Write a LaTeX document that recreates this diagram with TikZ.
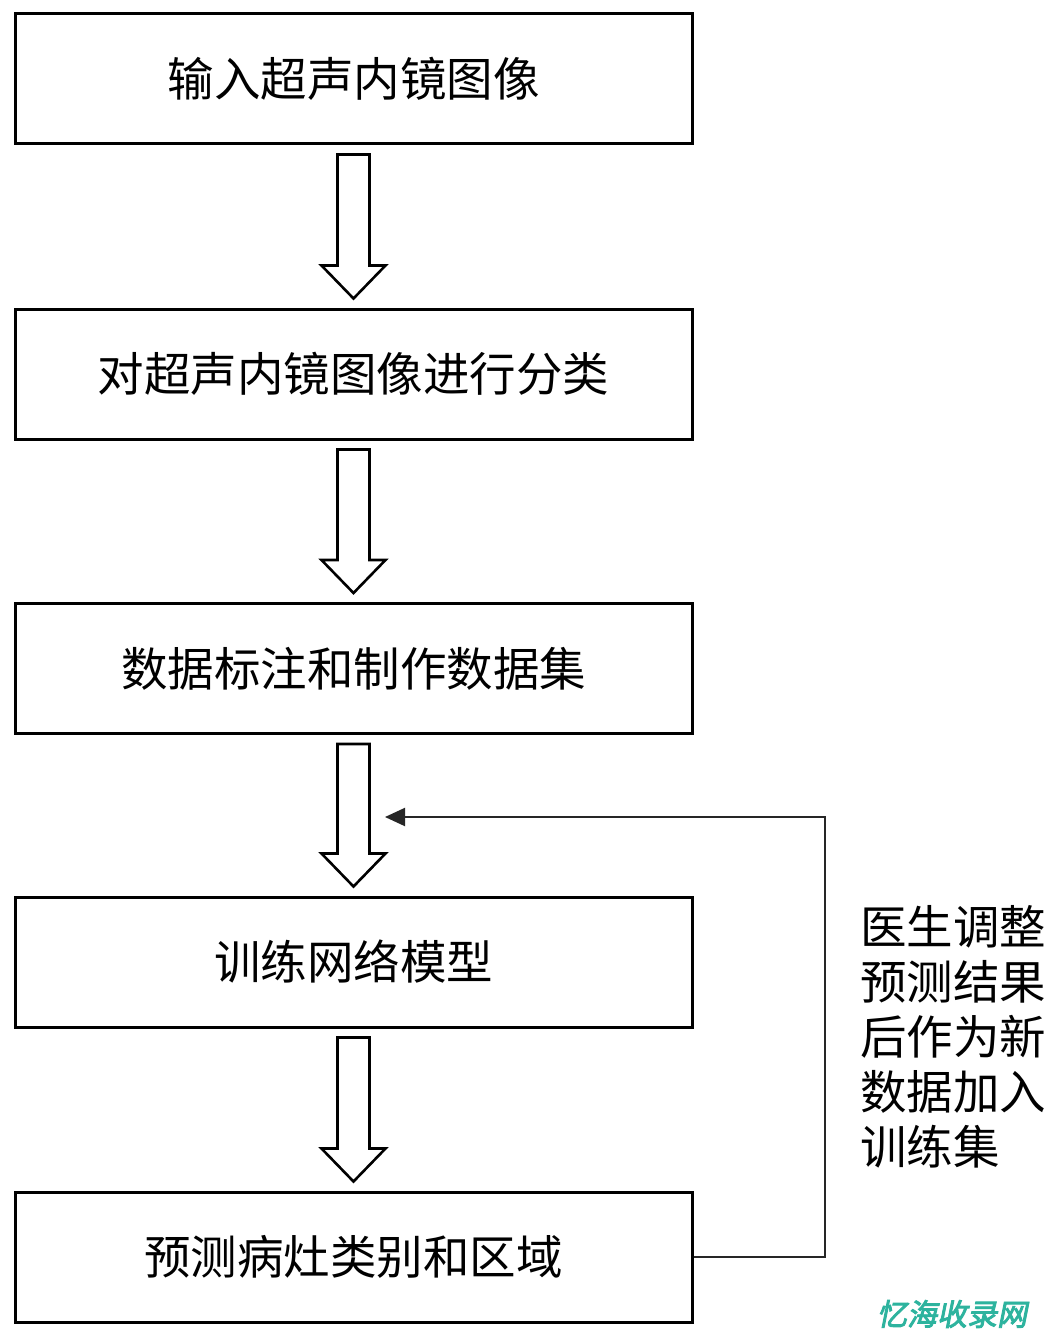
\documentclass[tikz,border=0pt]{standalone}
\usepackage{fontspec}
\newfontfamily\cjk{Noto Sans CJK SC}
\newfontfamily\wmfont[FakeBold=3,FakeSlant=0.2]{Noto Sans CJK SC}
\usetikzlibrary{calc,arrows.meta}
\definecolor{wmteal}{HTML}{2DB39E}
\tikzset{
  box/.style={draw=black,line width=3pt,minimum width=677pt,minimum height=130pt,inner sep=0pt,font=\cjk\fontsize{46.5}{50}\selectfont},
  barrow/.style={draw=black,line width=2.6pt,fill=white,line join=miter},
  fbline/.style={draw=black!85,line width=2pt,-{Triangle[length=20pt,width=18pt]}}
}
\newcommand\blockarr[2]{%
  \draw[barrow] ($(#1.south)+(-16,9)$) -- ($(#1.south)+(16,9)$) -- ($(#2.north)+(16,-42)$) -- ($(#2.north)+(32,-42)$) -- ($(#2.north)+(0,-9)$) -- ($(#2.north)+(-32,-42)$) -- ($(#2.north)+(-16,-42)$) -- cycle;}
\begin{document}
\begin{tikzpicture}[x=1pt,y=-1pt]
\useasboundingbox[fill=white] (0,0) rectangle (1058,1337);
\node[box] (b1) at (353.5,79) {输入超声内镜图像};
\node[box] (b2) at (353.5,374) {对超声内镜图像进行分类};
\node[box] (b3) at (353.5,668.5) {数据标注和制作数据集};
\node[box] (b4) at (353.5,962) {训练网络模型};
\node[box] (b5) at (353.5,1257) {预测病灶类别和区域};
\blockarr{b1}{b2}
\blockarr{b2}{b3}
\blockarr{b3}{b4}
\blockarr{b4}{b5}
\coordinate (fbcorner) at (825,817);
\coordinate (fbtip) at (385,817);
\draw[fbline] (b5.east) -| (fbcorner) -- (fbtip);
\node[anchor=base west,inner sep=0pt,align=left,font=\cjk\fontsize{46.5}{55}\selectfont] (note) at (860,1164) {医生调整\\预测结果\\后作为新\\数据加入\\训练集};
\node[inner sep=0pt,text=wmteal,font=\wmfont\fontsize{30}{30}\selectfont] (wm) at (952,1314) {忆海收录网};
\end{tikzpicture}
\end{document}
